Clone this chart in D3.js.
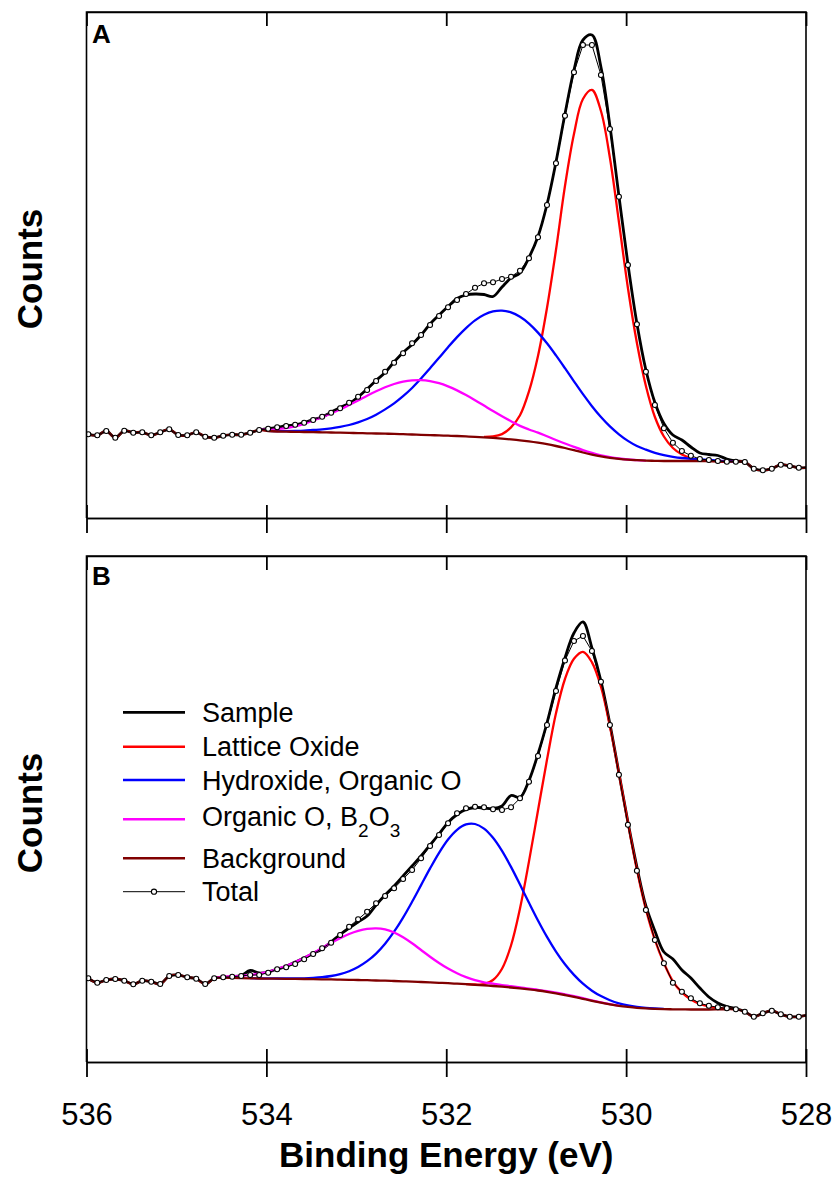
<!DOCTYPE html>
<html>
<head>
<meta charset="utf-8">
<script src="https://cdn.jsdelivr.net/npm/d3@7"></script>
<style>
  body { margin: 0; background: #fff; }
  text { font-family: "Liberation Sans", Arial, sans-serif; }
</style>
</head>
<body>
<svg id="chart" width="837" height="1182"></svg>
<script>
// O 1s spectra: measured sample, fitted components, Shirley-type background and fit total.
// Energy grid: first channel and step (eV); one value per channel in every series below.
const energyStart = 535.98;
const energyStep = 0.1;
const xTicks = [536, 534, 532, 530, 528];
const xTickLabels = ["536", "534", "532", "530", "528"];

// ---- Panel A ----
const sampleA = [83.7,82.7,87,80.3,87.3,85.3,85.7,82.7,85.7,88.7, 83,82.7,85.7,81.3,80.3,82.3,83.3,83.3,85.3,88,
  89.5,90.5,92.3,93,95.5,98.5,101,105.8,110.5,114.5, 121,129,137.5,145.5,156,165.5,173.5,183,194,203,
  211.5,219.5,223,224,223.5,221.5,231,240,245,260.5, 281.5,313.5,356,404,448,478,483,451,392,322,
  254,194.5,148,115.5,94.5,83,78,71,65,63.5, 62.5,59,57,56,49.3,47.7,49.3,53.3,52,50.3, 50.5];
const totalA = [83.7,82.7,87,80.3,87.3,85.3,85.7,82.7,85.7,88.7, 83,82.7,85.7,81.3,80.3,82.3,83.3,83.3,85.3,88,
  89.3,90.7,92,93.3,95.3,98,101.3,105.3,109.7,115.3, 121.3,128,137,146.3,155.3,164.7,174.7,183,193,202,
  210.7,218,224,230.3,234.7,235.7,239,241.3,247.3,259.7, 280.7,313,354.7,402.3,445.7,473,473,443,389,321.3,
  253,193.7,146.3,113,89.7,75.3,67,62.3,59,58, 57,56.3,56.3,56,49.3,47.7,49.3,53.3,52,50.3, 50.5];
const backgroundA = [83.7,82.7,87,80.3,87.3,85.3,85.7,82.7,85.7,88.7, 83,82.7,85.7,81.3,80.3,82.3,83.3,83.3,85.3,88,
  87,86.5,86.3,86.2,86,85.9,85.7,85.5,85.3,85.1, 84.9,84.7,84.5,84.3,84.1,83.8,83.5,83.2,82.9,82.6,
  82.3,82,81.6,81.2,80.7,80.1,79.4,78.6,77.7,76.6, 75.3,73.8,72,70,67.8,65.5,63.4,61.6,60.2,59.1,
  58.3,57.8,57.4,57.2,57,57,57,57,57,56.8, 56.6,56.3,56.3,56,49.3,47.7,49.3,53.3,52,50.3, 50.5];
// Components (drawn on top of the background), with the channel index of their first value.
const latticeA = [81.2,81.6,83.9,90.6,102.7,126.6,162,210,268,332, 384,419,428,407,360,296,230,175,132,101,
  81.5,70,63.5,60,58.2,57.3,56.7,56.3];
const latticeAStart = 44;
const hydroxideA = [87.2,86.8,86.9,87.1,87.4,88,88.6,89.6,91.1,93, 95.7,99,103.3,108.6,114.6,121.8,130,139.5,149.7,160.2,
  170.8,180.9,189.9,197.6,203.2,206.6,207.4,205.6,201.2,194.4, 185.4,174.7,162.6,149.8,136.7,123.8,111.8,101,91.6,83.7,
  77.1,72,68.3,65.2,62.8,61.2,60,59.2,58.6,58, 57.4,56.8,56.4];
const hydroxideAStart = 20;
const organicA = [88,88.5,88.8,89.8,91.6,94.1,97.7,100.8,104.5,108.5,113, 117.6,122.3,126.7,130.7,134,136.4,137.7,137.9,136.9,134.8,
  131.6,127.6,122.9,117.8,112.4,107,101.8,96.8,92.1,88.5, 85.4,81.7,78,74.5,71.1,67.9,65.1,62.7,60.9,59.5,
  58.5,57.9,57.4];
const organicAStart = 19;

// ---- Panel B ----
const sampleB = [83.7,79.3,82,83,81.3,77.7,81.3,80.3,78,86, 87,84.7,83.3,78,83.7,84.7,85.3,86.5,91.5,89,
  90,93,95.5,100,104,108.5,113,120,127.5,134, 140,146,157,167,176,186,196,206,217,228,
  239.5,247.5,252.5,254.5,254,253.5,256,266.5,264.5,281.5, 308,339,374,404,429,440,414,381,338,289,
  240,195,156,131,110,103,92,84,74,65, 59,55.5,53.5,50.3,45.3,48.7,51.3,47.7,45.3,45.3, 47];
const totalB = [83.7,79.3,82,83,81.3,77.7,81.3,80.3,78,86, 87,84.7,83.3,78,83.7,84.7,85.3,86,87,87,
  89.3,92.7,94.7,98,102.7,108,113.7,119.3,127,135.3, 142.7,150.3,158.7,166,173.7,183,192,203.7,216,227,
  238.7,248.7,253.7,255.3,254.7,252.7,252,254.7,263.7,280.3, 306,337,371,401.5,421,426,411,380.3,337,287.3,
  237.3,191.3,152,122,98.7,79.3,70.3,63.7,58.7,56.3, 54.7,53.7,52.7,50.3,45.3,48.7,51.3,47.7,45.3,45.3, 47];
const backgroundB = [83.7,79.3,82,83,81.3,77.7,81.3,80.3,78,86, 87,84.7,83.3,78,83.7,84.3,84.1,83.9,83.7,83.5,
  83.4,83.3,83.2,83.1,83,82.9,82.7,82.6,82.4,82.2, 82,81.8,81.5,81.3,81,80.7,80.4,80,79.6,79.2,
  78.8,78.3,77.8,77.2,76.6,76,75.3,74.5,73.6,72.6, 71.5,70.2,68.7,67,65.2,63.2,61.2,59.3,57.6,56.2,
  55.1,54.2,53.6,53.2,52.9,52.7,52.6,52.5,52.5,52.5, 52.6,52.7,52.7,50.3,45.3,48.7,51.3,47.7,45.3,45.3, 47];
const latticeB = [77.9,77.5,77.8,82,93.3,116.5,153.6,200.6,251.5,302.2, 348.7,383,403.2,410.2,399.7,375.3,335.6,288.2,239.1,192.2,
  152.6,122.2,98.9,80.7,69.6,62.5,58,55.5,54.1,53.3, 52.7];
const latticeBStart = 42;
const hydroxideB = [83.8,83.6,83.6,83.5,83.5,83.6,83.7,84.1,84.8,86, 87.9,90.8,95,100.8,108.4,118.3,130.3,144.4,160.2,176.9,
  193.6,209.2,222.5,232.2,237.6,238,233.4,224.2,211.1,195.1, 177.4,159.2,141.5,125.1,110.4,97.7,87.1,78.3,71.3,65.9,
  61.8,58.7,56.6,55.1,54.1,53.5,53.1];
const hydroxideBStart = 18;
const organicB = [83.7,85.3,85.6,86.2,87.1,88.5,90.4,93,96.1,99.9,104.3, 109.1,114.1,119.2,123.9,128,131.1,133.1,133.7,132.6,129.5,
  124.7,118.7,112,105.3,99,93.4,88.7,84.9,81.8,79.7, 78.3,76.9,75.8,74.6,73.3,72.2,70.9,69.4,67.7,65.8,
  63.8,61.7,59.7,57.9,56.4];
const organicBStart = 14;

const legendLabels = ["Sample", "Lattice Oxide", "Hydroxide, Organic O", "Organic O, B2O3", "Background", "Total"];
const colors = { sample: "#000000", lattice: "#ff0000", hydroxide: "#0000ff", organic: "#ff00ff", background: "#800000", total: "#000000" };

// ---- Layout ----
const svg = d3.select("#chart");
const plotLeft = 86.5, plotRight = 806;
const countsMax = 506;
const panels = [
  { id: "A", top: 12, bottom: 518, letterY: 42.7, sample: sampleA, total: totalA, background: backgroundA,
    comps: [[latticeA, latticeAStart, "lattice"], [hydroxideA, hydroxideAStart, "hydroxide"], [organicA, organicAStart, "organic"]] },
  { id: "B", top: 556, bottom: 1062, letterY: 585, sample: sampleB, total: totalB, background: backgroundB,
    comps: [[latticeB, latticeBStart, "lattice"], [hydroxideB, hydroxideBStart, "hydroxide"], [organicB, organicBStart, "organic"]] }
];

const x = d3.scaleLinear().domain([536, 528]).range([plotLeft, plotRight]);
const energyAt = i => energyStart - energyStep * i;

panels.forEach((p, pi) => {
  const y = d3.scaleLinear().domain([0, countsMax]).range([p.bottom, p.top]);
  const g = svg.append("g");

  const clipId = "clip" + p.id;
  svg.append("clipPath").attr("id", clipId).append("rect")
    .attr("x", plotLeft).attr("y", p.top).attr("width", plotRight - plotLeft).attr("height", p.bottom - p.top);

  const data = g.append("g").attr("clip-path", `url(#${clipId})`);
  const smooth = (start) => d3.line()
    .x((d, i) => x(energyAt(start + i)))
    .y(d => y(d))
    .curve(d3.curveCatmullRom.alpha(0.5));

  // measured spectrum
  data.append("path").datum(p.sample).attr("d", smooth(0))
    .attr("fill", "none").attr("stroke", colors.sample).attr("stroke-width", 2.8).attr("stroke-linejoin", "round");
  // fitted components
  p.comps.forEach(([vals, start, key]) => {
    data.append("path").datum(vals).attr("d", smooth(start))
      .attr("fill", "none").attr("stroke", colors[key]).attr("stroke-width", 2.3);
  });
  // background
  data.append("path").datum(p.background).attr("d", smooth(0))
    .attr("fill", "none").attr("stroke", colors.background).attr("stroke-width", 2.3);
  // fit total with symbols
  const totalLine = d3.line().x((d, i) => x(energyAt(i))).y(d => y(d));
  data.append("path").datum(p.total).attr("d", totalLine)
    .attr("fill", "none").attr("stroke", colors.total).attr("stroke-width", 1);
  data.selectAll("circle.pt").data(p.total.map((v, i) => [energyAt(i), v]).filter(d => d[0] >= 528))
    .join("circle").attr("class", "pt")
    .attr("cx", d => x(d[0])).attr("cy", d => y(d[1])).attr("r", 2.5)
    .attr("fill", "#fff").attr("stroke", "#000").attr("stroke-width", 1.1);

  // frame
  g.append("path")
    .attr("d", `M${plotLeft},${p.bottom}V${p.top}H${plotRight}V${p.bottom}`)
    .attr("fill", "none").attr("stroke", "#000").attr("stroke-width", 1.6);

  // bottom axis: ticks cross the axis line
  const axDown = d3.axisBottom(x).tickValues(xTicks).tickSizeInner(15).tickSizeOuter(0)
    .tickPadding(26).tickFormat((d, i) => pi === 1 ? xTickLabels[i] : "");
  const gDown = g.append("g").attr("transform", `translate(0,${p.bottom})`).call(axDown);
  const axUp = d3.axisTop(x).tickValues(xTicks).tickSizeInner(13).tickSizeOuter(0).tickFormat("");
  const gUp = g.append("g").attr("transform", `translate(0,${p.bottom})`).call(axUp);
  // top ticks pointing inward
  const axTop = d3.axisTop(x).tickValues(xTicks).tickSizeInner(-14).tickSizeOuter(0).tickFormat("");
  const gTop = g.append("g").attr("transform", `translate(0,${p.top})`).call(axTop);
  [gDown, gUp, gTop].forEach(a => {
    a.selectAll("path.domain").attr("stroke", "#000").attr("stroke-width", 1.6);
    a.selectAll(".tick line").attr("stroke", "#000").attr("stroke-width", 1.8);
  });
  gDown.selectAll(".tick text").attr("font-size", 31).attr("fill", "#000")
    .style("font-family", '"Liberation Sans", Arial, sans-serif');

  // panel letter
  g.append("text").attr("x", 92).attr("y", p.letterY).attr("font-size", 26).attr("font-weight", "bold")
    .text(p.id);

  // y label
  g.append("text")
    .attr("transform", `translate(42,${(p.top + p.bottom) / 2 + 4}) rotate(-90)`)
    .attr("text-anchor", "middle").attr("font-size", 35).attr("font-weight", "bold")
    .text("Counts");
});

// x axis title
svg.append("text").attr("x", x(532)).attr("y", 1167).attr("text-anchor", "middle")
  .attr("font-size", 35).attr("font-weight", "bold").text("Binding Energy (eV)");

// ---- Legend (panel B) ----
const legendKeys = ["sample", "lattice", "hydroxide", "organic", "background", "total"];
const legendLineY = [712.3, 746.7, 780, 819.3, 858.3, 891.7];
const legendTextY = [721.8, 756.2, 789.5, 825.6, 867.7, 901.2];
const lg = svg.append("g");
legendKeys.forEach((k, i) => {
  lg.append("line").attr("x1", 123).attr("x2", 185).attr("y1", legendLineY[i]).attr("y2", legendLineY[i])
    .attr("stroke", colors[k]).attr("stroke-width", k === "total" ? 1 : (k === "sample" ? 2.8 : 2.4));
  if (k === "total") {
    lg.append("circle").attr("cx", 154).attr("cy", legendLineY[i]).attr("r", 2.6)
      .attr("fill", "#fff").attr("stroke", "#000").attr("stroke-width", 1.1);
  }
  const t = lg.append("text").attr("x", 202).attr("y", legendTextY[i]).attr("font-size", 27);
  if (k === "organic") {
    t.append("tspan").text("Organic O, B");
    t.append("tspan").attr("font-size", 19).attr("dy", 11).text("2");
    t.append("tspan").attr("dy", -11).text("O");
    t.append("tspan").attr("font-size", 19).attr("dy", 11).text("3");
  } else {
    t.text(legendLabels[i]);
  }
});
</script>
</body>
</html>
